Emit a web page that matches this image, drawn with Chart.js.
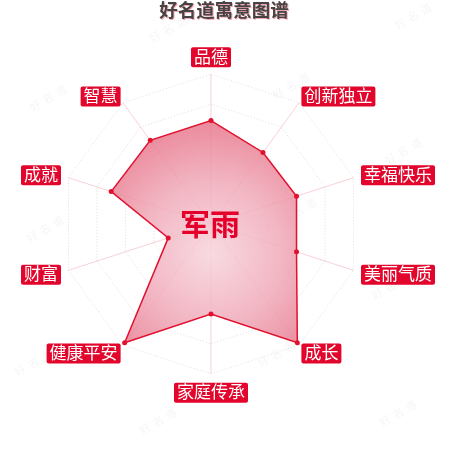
<!DOCTYPE html>
<html>
<head>
    <meta charset="utf-8">
    <title>好名道寓意图谱</title>
    <script src="https://cdn.jsdelivr.net/npm/chart.js"></script>
    <style>
        html, body { margin: 0; padding: 0; background: #fff; }
        canvas { display: block; }
    </style>
</head>
<body>
    <canvas id="grafico" width="450" height="450"></canvas>

    <script>
        // dados do gráfico
        const titulo = '好名道寓意图谱';
        const nome = '军雨';
        const categorias = ['品德', '创新独立', '幸福快乐', '美丽气质', '成长', '家庭传承', '健康平安', '财富', '成就', '智慧'];
        const valores = [69, 59, 60, 60, 98, 60, 98, 30, 70, 69];
        const escalaMin = 0;
        const escalaMax = 100;
        const escalaPasso = 20;
        const marcaDagua = '好名道';

        const vermelho = '#e2102f';
        Chart.defaults.font.family = '"Noto Sans CJK SC", "Noto Sans", sans-serif';

        // título, nome no centro e marcas d'água
        const decoracao = {
            id: 'decoracao',
            beforeDraw(chart) {
                const c = chart.ctx;
                c.save();
                c.textAlign = 'center';
                c.textBaseline = 'middle';
                c.fillStyle = 'rgba(0, 0, 0, 0.045)';
                c.font = '11px "Noto Sans CJK SC"';
                c.letterSpacing = '4px';
                [[170, 28], [415, 15], [293, 85], [50, 97], [405, 150], [300, 210], [47, 228],
                 [392, 285], [278, 353], [35, 362], [160, 420], [400, 412]].forEach(([x, y]) => {
                    c.save();
                    c.translate(x, y);
                    c.rotate(-Math.PI / 6);
                    c.fillText(marcaDagua, 0, 0);
                    c.restore();
                });
                c.letterSpacing = '0px';
                c.font = 'bold 18.5px "Noto Sans CJK SC"';
                c.fillStyle = 'rgba(230, 0, 40, 0.35)';
                c.fillText(titulo, 225, 11);
                c.fillStyle = '#444';
                c.fillText(titulo, 224, 10);
                c.restore();
            },
            afterDatasetsDraw(chart) {
                const r = chart.scales.r;
                const c = chart.ctx;
                c.save();
                c.textAlign = 'center';
                c.textBaseline = 'middle';
                c.font = 'bold 30px "Noto Sans CJK SC"';
                c.fillStyle = '#e4002b';
                c.fillText(nome, r.xCenter - 1, r.yCenter);
                c.restore();
            }
        };

        // preenchimento em gradiente radial
        function gradiente(context) {
            const chart = context.chart;
            const r = chart.scales.r;
            if (!r || !r.drawingArea) return 'rgba(235, 140, 158, 0.8)';
            const cx = r.xCenter, cy = r.yCenter + 30;
            const g = chart.ctx.createRadialGradient(cx, cy, 0, cx, cy, 140);
            g.addColorStop(0, 'rgba(247, 212, 220, 0.85)');
            g.addColorStop(0.5, 'rgba(240, 170, 185, 0.85)');
            g.addColorStop(1, 'rgba(230, 112, 134, 0.85)');
            return g;
        }

        const ctx = document.getElementById('grafico').getContext('2d');
        const myChart = new Chart(ctx, {
            type: 'radar',
            data: {
                labels: categorias,
                datasets: [{
                    label: nome,
                    data: valores,
                    backgroundColor: gradiente,
                    borderColor: vermelho,
                    borderWidth: 1.5,
                    pointRadius: 2.5,
                    pointBackgroundColor: vermelho,
                    pointBorderWidth: 0,
                    fill: true
                }]
            },
            options: {
                responsive: false,
                animation: false,
                layout: {
                    padding: { left: 8, right: 0, top: 30, bottom: 32 }
                },
                plugins: {
                    legend: { display: false },
                    title: { display: false },
                    tooltip: { enabled: false }
                },
                scales: {
                    r: {
                        min: escalaMin,
                        max: escalaMax,
                        ticks: { stepSize: escalaPasso, display: false },
                        grid: {
                            color: 'rgba(200, 200, 200, 0.6)',
                            lineWidth: 1
                        },
                        border: { dash: [1, 2] },
                        angleLines: {
                            color: 'rgba(228, 40, 70, 0.22)',
                            lineWidth: 1
                        },
                        pointLabels: {
                            color: '#fff',
                            font: { size: 17, lineHeight: 0 },
                            backdropColor: '#e2062c',
                            backdropPadding: { top: 9, bottom: 11, left: 3, right: 3 },
                            borderRadius: 2,
                            padding: (c) => {
                                const k = c.index % 5;
                                if (k === 0) return 18;
                                if (k === 2 || k === 3) return 11;
                                return 9;
                            }
                        }
                    }
                }
            },
            plugins: [decoracao]
        });
    </script>
</body>
</html>
